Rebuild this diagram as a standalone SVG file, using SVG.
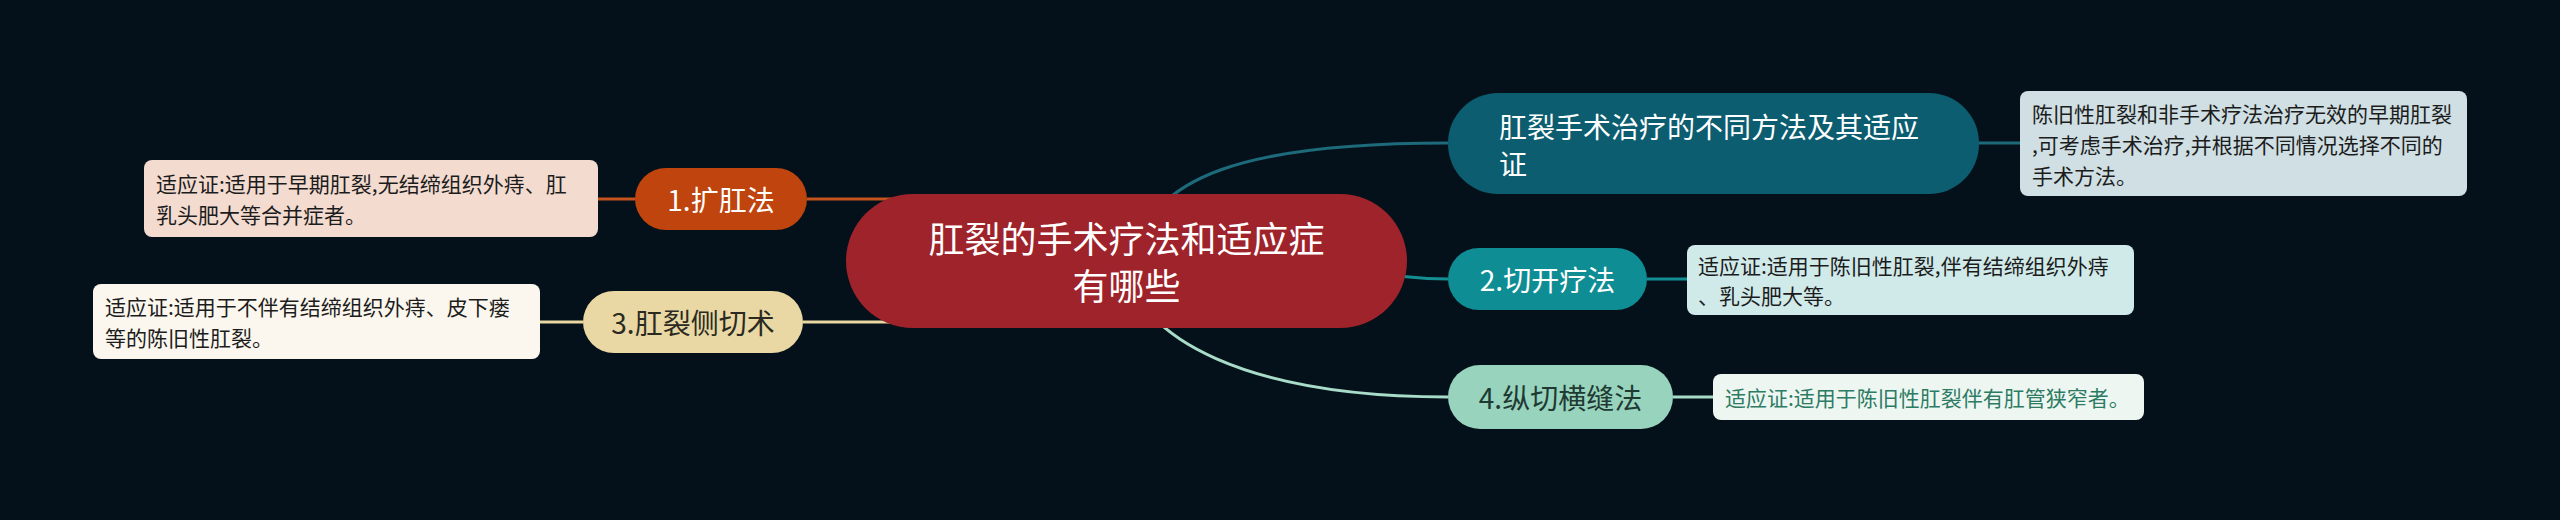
<svg xmlns="http://www.w3.org/2000/svg" width="2560" height="520" viewBox="0 0 2560 520">
<style>
text{font-family:"Noto Sans CJK SC","Noto Sans",sans-serif;dominant-baseline:central}
.root{font-size:36px;fill:#ffffff;text-anchor:middle}
.main{font-size:28px;text-anchor:middle}
.mainl{font-size:28px;fill:#ffffff}
.det{font-size:21px;fill:#1c1c1c}
.conn{fill:none;stroke-width:3}
</style>
<rect width="2560" height="520" fill="#04111a"/>
<g id="connectors">
<path class="conn" stroke="#1d6a7b" d="M1135 261 C1145 175,1250 143,1448 143"/>
<path class="conn" stroke="#138f94" d="M1250 261 C1350 261,1380 279,1448 279"/>
<path class="conn" stroke="#a8dcc8" d="M1125 261 C1135 340,1250 397,1448 397"/>
<path class="conn" stroke="#c4531d" d="M807 199 L960 199"/>
<path class="conn" stroke="#e8d7a0" d="M803 322 L960 322"/>
<path class="conn" stroke="#1d6a7b" d="M1979 143 L2020 143"/>
<path class="conn" stroke="#138f94" d="M1647 279 L1687 279"/>
<path class="conn" stroke="#a8dcc8" d="M1673 397 L1713 397"/>
<path class="conn" stroke="#c4531d" d="M598 199 L635 199"/>
<path class="conn" stroke="#e8d7a0" d="M540 322 L583 322"/>
</g>
<g id="root">
<rect x="846" y="194" width="561" height="134" rx="67" fill="#9f232a"/>
<text class="root" x="1126.5" y="237">肛裂的手术疗法和适应症</text>
<text class="root" x="1126.5" y="284">有哪些</text>
</g>
<g id="n-methods">
<rect x="1448" y="93" width="531" height="101" rx="50" fill="#0b5d6f"/>
<text class="mainl" x="1499" y="126">肛裂手术治疗的不同方法及其适应</text>
<text class="mainl" x="1499" y="163">证</text>
</g>
<g id="d-methods">
<rect x="2020" y="91" width="447" height="105" rx="8" fill="#cfdfe3"/>
<text class="det" x="2032" y="113">陈旧性肛裂和非手术疗法治疗无效的早期肛裂</text>
<text class="det" x="2032" y="144">,可考虑手术治疗,并根据不同情况选择不同的</text>
<text class="det" x="2032" y="175">手术方法。</text>
</g>
<g id="n2">
<rect x="1448" y="248" width="199" height="62" rx="31" fill="#0e8e94"/>
<text class="main" x="1547.5" y="279" fill="#ffffff">2.切开疗法</text>
</g>
<g id="d2">
<rect x="1687" y="245" width="447" height="70" rx="8" fill="#d0eaea"/>
<text class="det" x="1698" y="265">适应证:适用于陈旧性肛裂,伴有结缔组织外痔</text>
<text class="det" x="1698" y="295">、乳头肥大等。</text>
</g>
<g id="n4">
<rect x="1448" y="365" width="225" height="64" rx="32" fill="#98d3bd"/>
<text class="main" x="1560.5" y="397" fill="#1f3a32">4.纵切横缝法</text>
</g>
<g id="d4">
<rect x="1713" y="374" width="431" height="46" rx="8" fill="#eef6f2"/>
<text class="det" x="1725" y="397" style="fill:#2c7b63">适应证:适用于陈旧性肛裂伴有肛管狭窄者。</text>
</g>
<g id="n1">
<rect x="635" y="168" width="172" height="62" rx="31" fill="#bf440d"/>
<text class="main" x="721" y="199" fill="#ffffff">1.扩肛法</text>
</g>
<g id="d1">
<rect x="144" y="160" width="454" height="77" rx="8" fill="#f3dbd0"/>
<text class="det" x="156" y="183">适应证:适用于早期肛裂,无结缔组织外痔、肛</text>
<text class="det" x="156" y="214">乳头肥大等合并症者。</text>
</g>
<g id="n3">
<rect x="583" y="291" width="220" height="62" rx="31" fill="#e9d8a3"/>
<text class="main" x="693" y="322" fill="#2a2a22">3.肛裂侧切术</text>
</g>
<g id="d3">
<rect x="93" y="284" width="447" height="75" rx="8" fill="#fbf7ee"/>
<text class="det" x="105" y="306">适应证:适用于不伴有结缔组织外痔、皮下瘘</text>
<text class="det" x="105" y="337">等的陈旧性肛裂。</text>
</g>
</svg>
